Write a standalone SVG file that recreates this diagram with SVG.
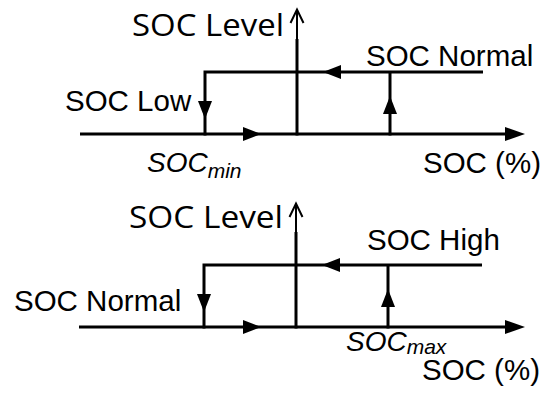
<svg xmlns="http://www.w3.org/2000/svg" width="541" height="398" viewBox="0 0 541 398">
  <style>
    .ln { stroke: #000; stroke-width: 3; fill: none; }
    .thin { stroke: #000; stroke-width: 2; fill: none; }
    .ah { fill: #000; stroke: none; }
    .t { font-family: "Liberation Sans", Arial, sans-serif; font-size: 29.5px; fill: #000; }
    .ti { font-family: "Liberation Sans", Arial, sans-serif; font-size: 28px; font-style: italic; fill: #000; }
    .lv { font-family: "Open Sans", Lato, sans-serif; font-size: 30.5px; font-weight: 400; fill: #000; }
  </style>
  <defs>
    <path id="tri" d="M0,0 L-18,-7 L-18,7 Z"/>
    <path id="axtri" d="M0,0 L-20,-7 L-20,7 Z"/>
  </defs>
  <rect width="541" height="398" fill="#fff"/>

  <g id="chart-low">
    <g id="connectors-low">
      <line class="ln" x1="80" y1="134" x2="508" y2="134"/>
      <use href="#axtri" class="ah" transform="translate(525,134)"/>
      <use href="#tri" class="ah" transform="translate(261,134)"/>
      <line class="ln" x1="297" y1="135.5" x2="297" y2="39"/>
      <line class="thin" x1="297" y1="40" x2="297" y2="10"/>
      <path class="thin" d="M290.5,23 L297,9.5 L303.5,23"/>
      <polyline class="ln" points="483,72 205,72 205,135.5"/>
      <use href="#tri" class="ah" transform="translate(323,72) rotate(180)"/>
      <use href="#tri" class="ah" transform="translate(205,119) rotate(90)"/>
      <line class="ln" x1="390" y1="135.5" x2="390" y2="72"/>
      <use href="#tri" class="ah" transform="translate(390,96) rotate(-90)"/>
    </g>
    <text class="lv" x="132" y="36" textLength="152" lengthAdjust="spacingAndGlyphs">SOC Level</text>
    <text class="t" x="366" y="66">SOC Normal</text>
    <text class="t" x="65" y="111">SOC Low</text>
    <text class="ti" x="147" y="172">SOC<tspan font-size="21" dy="6">min</tspan></text>
    <text class="t" x="423" y="173">SOC (%)</text>
  </g>

  <g id="chart-high">
    <g id="connectors-high">
      <line class="ln" x1="79" y1="327" x2="508" y2="327"/>
      <use href="#axtri" class="ah" transform="translate(525,327)"/>
      <use href="#tri" class="ah" transform="translate(261,327)"/>
      <line class="ln" x1="296" y1="328.5" x2="296" y2="232"/>
      <line class="thin" x1="296" y1="233" x2="296" y2="204"/>
      <path class="thin" d="M289.5,217 L296,203.5 L302.5,217"/>
      <polyline class="ln" points="482,265 204,265 204,328.5"/>
      <use href="#tri" class="ah" transform="translate(322,265) rotate(180)"/>
      <use href="#tri" class="ah" transform="translate(204,312) rotate(90)"/>
      <line class="ln" x1="388" y1="328.5" x2="388" y2="265"/>
      <use href="#tri" class="ah" transform="translate(388,289) rotate(-90)"/>
    </g>
    <text class="lv" x="129" y="228" textLength="154" lengthAdjust="spacingAndGlyphs">SOC Level</text>
    <text class="t" x="367" y="250">SOC High</text>
    <text class="t" x="14" y="311">SOC Normal</text>
    <text class="ti" x="346" y="351">SOC<tspan font-size="21" dy="3">max</tspan></text>
    <text class="t" x="422" y="380">SOC (%)</text>
  </g>
</svg>
